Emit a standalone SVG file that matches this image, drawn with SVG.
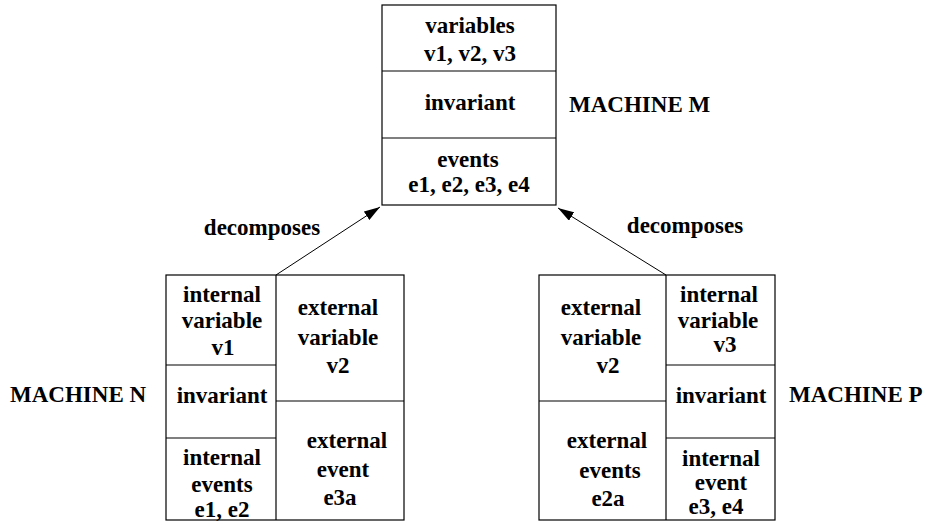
<svg xmlns="http://www.w3.org/2000/svg" width="926" height="530" viewBox="0 0 926 530">
  <style>
    .box { fill: #ffffff; stroke: #000000; stroke-width: 1.2; }
    .div { stroke: #000000; stroke-width: 1.2; fill: none; }
    .edge { stroke: #000000; stroke-width: 1; fill: none; }
    text { font-family: "Liberation Serif", "Times New Roman", serif; font-weight: bold; font-size: 23px; fill: #000000; }
    .c { text-anchor: middle; }
  </style>
  <defs>
    <marker id="arrow" viewBox="0 0 16 10" refX="16" refY="5" markerWidth="16" markerHeight="10" markerUnits="userSpaceOnUse" orient="auto">
      <path d="M0,0 L16,5 L0,10 Z" fill="#000000"/>
    </marker>
  </defs>
  <rect width="926" height="530" fill="#ffffff"/>

  <!-- Machine M -->
  <g id="machine-m">
    <rect class="box" x="382" y="5" width="174" height="200"/>
    <line class="div" x1="382" y1="71" x2="556" y2="71"/>
    <line class="div" x1="382" y1="138" x2="556" y2="138"/>
    <text class="c" x="470" y="33">variables</text>
    <text class="c" x="470" y="61">v1, v2, v3</text>
    <text class="c" x="470" y="110">invariant</text>
    <text class="c" x="468" y="167">events</text>
    <text class="c" x="469" y="192">e1, e2, e3, e4</text>
    <text x="569" y="112">MACHINE M</text>
  </g>

  <!-- Machine N -->
  <g id="machine-n">
    <rect class="box" x="166" y="275" width="238" height="245"/>
    <line class="div" x1="276" y1="275" x2="276" y2="520"/>
    <line class="div" x1="166" y1="365" x2="276" y2="365"/>
    <line class="div" x1="166" y1="438" x2="276" y2="438"/>
    <line class="div" x1="276" y1="401" x2="404" y2="401"/>
    <text class="c" x="222" y="302">internal</text>
    <text class="c" x="222" y="328">variable</text>
    <text class="c" x="223" y="355">v1</text>
    <text class="c" x="222" y="403">invariant</text>
    <text class="c" x="222" y="465">internal</text>
    <text class="c" x="222" y="492">events</text>
    <text class="c" x="222" y="517">e1, e2</text>
    <text class="c" x="338" y="315">external</text>
    <text class="c" x="338" y="345">variable</text>
    <text class="c" x="338" y="373">v2</text>
    <text class="c" x="347" y="448">external</text>
    <text class="c" x="343" y="477">event</text>
    <text class="c" x="340" y="505">e3a</text>
    <text x="10" y="402">MACHINE N</text>
  </g>

  <!-- Machine P -->
  <g id="machine-p">
    <rect class="box" x="539" y="275" width="236" height="245"/>
    <line class="div" x1="666" y1="275" x2="666" y2="520"/>
    <line class="div" x1="539" y1="401" x2="666" y2="401"/>
    <line class="div" x1="666" y1="365" x2="775" y2="365"/>
    <line class="div" x1="666" y1="438" x2="775" y2="438"/>
    <text class="c" x="601" y="315">external</text>
    <text class="c" x="601" y="345">variable</text>
    <text class="c" x="608" y="373">v2</text>
    <text class="c" x="607" y="448">external</text>
    <text class="c" x="610" y="478">events</text>
    <text class="c" x="608" y="506">e2a</text>
    <text class="c" x="719" y="302">internal</text>
    <text class="c" x="718" y="328">variable</text>
    <text class="c" x="725" y="352">v3</text>
    <text class="c" x="721" y="403">invariant</text>
    <text class="c" x="721" y="466">internal</text>
    <text class="c" x="721" y="490">event</text>
    <text class="c" x="716" y="514">e3, e4</text>
    <text x="789" y="402">MACHINE P</text>
  </g>

  <!-- Connectors -->
  <g id="connectors">
    <line class="edge" x1="276" y1="275" x2="380" y2="207" marker-end="url(#arrow)"/>
    <line class="edge" x1="666" y1="275" x2="558" y2="208" marker-end="url(#arrow)"/>
    <text class="c" x="262" y="235">decomposes</text>
    <text class="c" x="685" y="233">decomposes</text>
  </g>
</svg>
